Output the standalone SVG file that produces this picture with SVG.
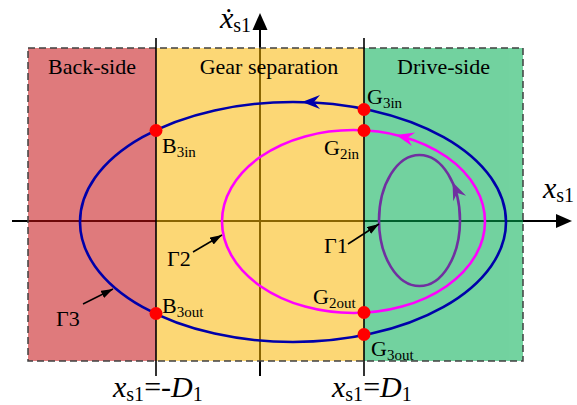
<svg xmlns="http://www.w3.org/2000/svg" width="577" height="405" viewBox="0 0 577 405">
<defs>
<style>
.axis{stroke:#000;stroke-width:2;fill:none}
.vl{stroke:#000;stroke-width:1.6;fill:none}
.orb{fill:none;stroke-width:2.6}
.dot{fill:#ff0000}
.ann{stroke:#000;stroke-width:1.5;fill:none}
</style>
<marker id="ah" viewBox="0 0 12 8" refX="12" refY="4" markerWidth="12" markerHeight="8" markerUnits="userSpaceOnUse" orient="auto">
<path d="M0,0 L12,4 L0,8 Z" fill="#000"/>
</marker>
</defs>

<g id="axes">
<line class="axis" x1="12" y1="221" x2="557" y2="221"/>
<polygon points="572,221 556,214 556,228" fill="#000"/>
<line class="axis" x1="260" y1="376" x2="260" y2="29"/>
<polygon points="260,13 252.5,30 267.5,30" fill="#000"/>
</g>

<g id="regions" opacity="0.55">
<rect id="back-side" x="28" y="48" width="128" height="313" fill="#c60f12"/>
<rect id="gear-separation" x="156" y="48" width="208" height="313" fill="#fbb805"/>
<rect id="drive-side" x="364" y="48" width="159" height="313" fill="#00af52"/>
</g>
<rect x="28" y="48" width="495" height="313" fill="none" stroke="#404040" stroke-width="1.5" stroke-dasharray="7 4"/>

<g id="boundaries">
<line class="vl" x1="156" y1="38" x2="156" y2="376"/>
<line class="vl" x1="364" y1="38" x2="364" y2="376"/>
</g>

<g id="orbits">
<ellipse id="gamma3" class="orb" cx="293" cy="222" rx="213" ry="120" stroke="#0000aa"/>
<ellipse id="gamma2" class="orb" cx="353.5" cy="221.5" rx="131.5" ry="91.5" stroke="#ff00ff"/>
<ellipse id="gamma1" class="orb" cx="419.5" cy="220.5" rx="40.5" ry="65.5" stroke="#7030a0"/>
</g>

<g id="connectors">
<path d="M0,0 L-18,-7 L-12,0 L-18,7 Z" transform="translate(302,102) rotate(180)" fill="#0000aa"/>
<path d="M0,0 L-18,-7 L-12,0 L-18,7 Z" transform="translate(396,135) rotate(193.7)" fill="#ff00ff"/>
<path d="M0,0 L-18,-7 L-12,0 L-18,7 Z" transform="translate(452.5,182) rotate(246.6)" fill="#7030a0"/>
<line class="ann" x1="348" y1="244" x2="379" y2="224" marker-end="url(#ah)"/>
<line class="ann" x1="193" y1="252" x2="222" y2="235" marker-end="url(#ah)"/>
<line class="ann" x1="83" y1="304" x2="113" y2="289" marker-end="url(#ah)"/>
</g>

<g id="points">
<circle id="B3in" class="dot" cx="156" cy="130.5" r="6.5"/>
<circle id="B3out" class="dot" cx="156" cy="313.5" r="6.5"/>
<circle id="G3in" class="dot" cx="364" cy="109.5" r="6.5"/>
<circle id="G3out" class="dot" cx="364" cy="334.5" r="6.5"/>
<circle id="G2in" class="dot" cx="364" cy="130.5" r="6.5"/>
<circle id="G2out" class="dot" cx="364" cy="312.5" r="6.5"/>
</g>

<g id="labels" fill="#000">
<text font-family="Liberation Serif" font-size="22" x="92" y="74" text-anchor="middle">Back-side</text>
<text font-family="Liberation Serif" font-size="22" x="269" y="74" text-anchor="middle">Gear separation</text>
<text font-family="Liberation Serif" font-size="22" x="443.5" y="74" text-anchor="middle">Drive-side</text>

<text font-family="Liberation Serif" font-size="22" x="367" y="104">G<tspan font-size="15" dy="4">3in</tspan></text>
<text font-family="Liberation Serif" font-size="22" x="162" y="153">B<tspan font-size="15" dy="4">3in</tspan></text>
<text font-family="Liberation Serif" font-size="22" x="324" y="155">G<tspan font-size="15" dy="4">2in</tspan></text>
<text font-family="Liberation Serif" font-size="22" x="162" y="313">B<tspan font-size="15" dy="4">3out</tspan></text>
<text font-family="Liberation Serif" font-size="22" x="313" y="304">G<tspan font-size="15" dy="4">2out</tspan></text>
<text font-family="Liberation Serif" font-size="22" x="371" y="356">G<tspan font-size="15" dy="4">3out</tspan></text>

<text font-family="Liberation Serif" font-size="22" x="324" y="253">Γ1</text>
<text font-family="Liberation Serif" font-size="22" x="167" y="266">Γ2</text>
<text font-family="Liberation Serif" font-size="22" x="56" y="326">Γ3</text>

<text font-family="Liberation Serif" font-size="30" font-style="italic" x="220" y="28">ẋ<tspan font-size="20" font-style="normal" dy="4">s1</tspan></text>
<text font-family="Liberation Serif" font-size="30" font-style="italic" x="543" y="198">x<tspan font-size="20" font-style="normal" dy="4">s1</tspan></text>
<text font-family="Liberation Serif" font-size="30" font-style="italic" x="113" y="397">x<tspan font-size="20" font-style="normal" dy="4">s1</tspan><tspan font-style="normal" dy="-4">=-</tspan>D<tspan font-size="20" font-style="normal" dy="4">1</tspan></text>
<text font-family="Liberation Serif" font-size="30" font-style="italic" x="332" y="397">x<tspan font-size="20" font-style="normal" dy="4">s1</tspan><tspan font-style="normal" dy="-4">=</tspan>D<tspan font-size="20" font-style="normal" dy="4">1</tspan></text>
</g>
</svg>
